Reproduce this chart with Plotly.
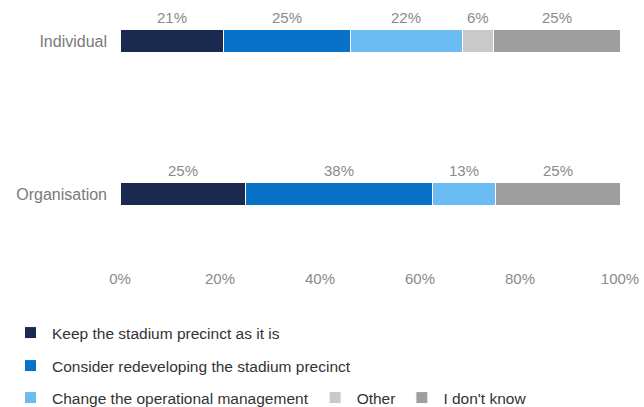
import plotly.graph_objects as go

categories = ["Individual", "Organisation"]
series_names = [
    "Keep the stadium precinct as it is",
    "Consider redeveloping the stadium precinct",
    "Change the operational management",
    "Other",
    "I don't know",
]
values = {
    "Keep the stadium precinct as it is": [20.6, 25.0],
    "Consider redeveloping the stadium precinct": [25.4, 37.5],
    "Change the operational management": [22.4, 12.5],
    "Other": [6.3, 0.0],
    "I don't know": [25.3, 25.0],
}
labels = {
    "Keep the stadium precinct as it is": ["21%", "25%"],
    "Consider redeveloping the stadium precinct": ["25%", "38%"],
    "Change the operational management": ["22%", "13%"],
    "Other": ["6%", ""],
    "I don't know": ["25%", "25%"],
}
tick_vals = [0, 20, 40, 60, 80, 100]
tick_text = ["0%", "20%", "40%", "60%", "80%", "100%"]

colors = ["#1a2a4e", "#0872c8", "#6bbcf2", "#c9c9c9", "#9e9e9e"]
legend_ids = ["legend", "legend2", "legend3", "legend3", "legend3"]
FONT = "Liberation Sans, Arial, sans-serif"

fig = go.Figure()
annotations = []
cum = [0.0 for _ in categories]
for name, col, lg in zip(series_names, colors, legend_ids):
    vals = values[name]
    fig.add_trace(go.Bar(
        name=name, y=categories, x=vals, orientation="h",
        marker=dict(color=col, line=dict(color="white", width=1)),
        width=0.145, legend=lg, hoverinfo="skip",
    ))
    for i, (c, v) in enumerate(zip(categories, vals)):
        if v > 0 and labels[name][i]:
            annotations.append(dict(
                x=cum[i] + v / 2, y=c, xref="x", yref="y",
                text=labels[name][i], showarrow=False, yshift=23,
                font=dict(size=15, color="#8a8a8a", family=FONT),
            ))
        cum[i] += v

PLOT_TOP, PLOT_BOTTOM, PLOT_LEFT, PLOT_RIGHT = 20, 268, 120, 620
def ypaper(px):
    return (PLOT_BOTTOM - px) / (PLOT_BOTTOM - PLOT_TOP)
def xpaper(px):
    return (px - PLOT_LEFT) / (PLOT_RIGHT - PLOT_LEFT)

legend_font = dict(size=15.5, color="#333333", family=FONT)
common = dict(orientation="h", font=legend_font, xanchor="left", yanchor="middle",
              traceorder="normal", x=xpaper(9), itemwidth=33)
fig.update_layout(
    barmode="stack",
    width=644, height=407,
    margin=dict(l=PLOT_LEFT, r=644 - PLOT_RIGHT, t=PLOT_TOP, b=407 - PLOT_BOTTOM, autoexpand=False),
    plot_bgcolor="white", paper_bgcolor="white",
    font=dict(family=FONT),
    annotations=annotations,
    xaxis=dict(range=[0, 100], tickvals=tick_vals, ticktext=tick_text,
               showgrid=False, zeroline=False, showline=False, automargin=False,
               tickfont=dict(size=15, color="#8a8a8a"), ticklen=0),
    yaxis=dict(range=[1.484, -0.137], showgrid=False, zeroline=False, showline=False,
               automargin=False, tickfont=dict(size=16, color="#7a7a7a"), ticklen=0, ticks="",
               ticklabelstandoff=12),
    legend=dict(y=ypaper(333), **common),
    legend2=dict(y=ypaper(366), **common),
    legend3=dict(y=ypaper(398), **common),
    showlegend=True,
)
fig.write_html("out.html", config={"displayModeBar": False},
               post_script="document.body.style.margin='0';document.body.style.overflow='hidden';")
